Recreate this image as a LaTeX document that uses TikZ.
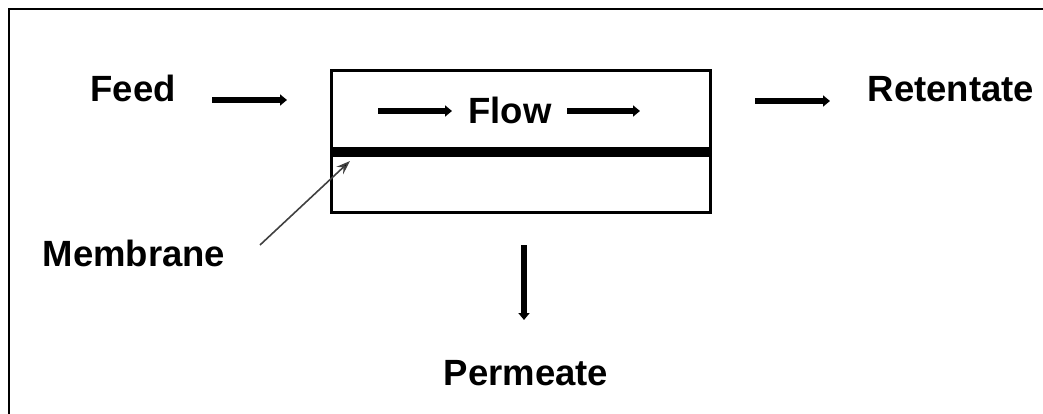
\documentclass[tikz,border=0pt]{standalone}
\usepackage{fontspec}
\setmainfont{Liberation Sans}
\usetikzlibrary{arrows.meta}
\begin{document}
\begin{tikzpicture}[x=1pt,y=-1pt,
  label/.style={font=\fontsize{36.5}{40}\selectfont\bfseries, inner sep=0pt, anchor=base},
  flowarrow/.style={line width=5.5pt, -{Triangle[length=7pt,width=11pt]}},
  pointer/.style={line width=1.6pt, draw=black!75, -{Stealth[length=14pt,width=10pt,inset=5pt,fill=black]}}
]
\useasboundingbox (0,0) rectangle (1043,414);
% open frame: left and top edges only
\draw[line width=2pt] (9,414) -- (9,9) -- (1043,9);

% membrane module
\node[draw, line width=3pt, minimum width=379pt, minimum height=141pt, inner sep=0pt] (module) at (520.5,141.5) {};
\node[fill=black, minimum width=379pt, minimum height=10pt, inner sep=0pt] (membrane) at (520.5,152) {};

% labels
\node[label] (feed) at (133,102) {Feed};
\node[label] (flow) at (510,124) {Flow};
\node[label] (retentate) at (951,102) {Retentate};
\node[label] (membranelbl) at (134,266) {Membrane};
\node[label] (permeate) at (526,385) {Permeate};

% arrow end points
\coordinate (feedA) at (212,100);
\coordinate (feedB) at (287,100);
\coordinate (flowA1) at (378,111);
\coordinate (flowB1) at (452,111);
\coordinate (flowA2) at (567,111);
\coordinate (flowB2) at (640,111);
\coordinate (retA) at (755,101);
\coordinate (retB) at (830,101);
\coordinate (permA) at (524,245);
\coordinate (permB) at (524,320);
\coordinate (ptrA) at (260,245);
\coordinate (ptrB) at (350,161);

\draw[flowarrow] (feedA) -- (feedB);
\draw[flowarrow] (flowA1) -- (flowB1);
\draw[flowarrow] (flowA2) -- (flowB2);
\draw[flowarrow] (retA) -- (retB);
\draw[flowarrow] (permA) -- (permB);
\draw[pointer] (ptrA) -- (ptrB);
\end{tikzpicture}
\end{document}
